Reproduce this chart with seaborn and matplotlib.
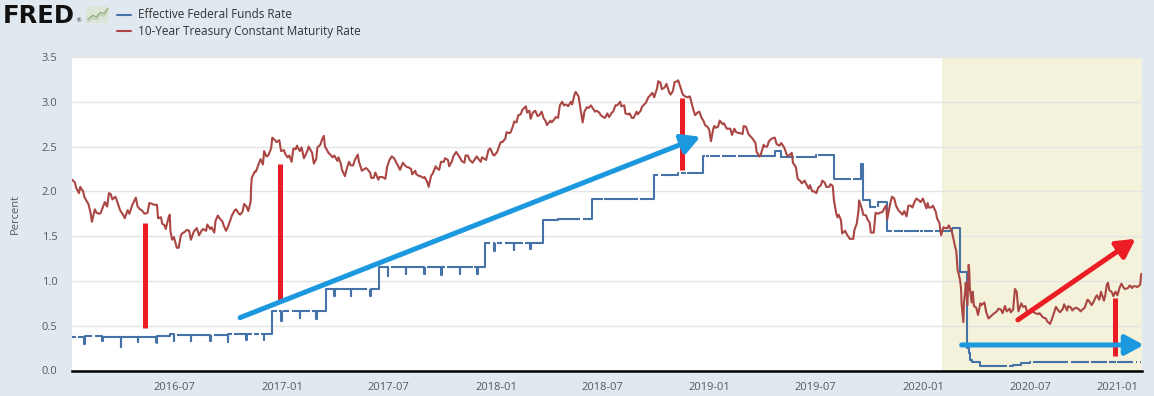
import pandas as pd
import matplotlib.pyplot as plt
import matplotlib.dates as mdates
from matplotlib.lines import Line2D
import seaborn as sns

# 10-Year Treasury Constant Maturity Rate (~weekly)
t10_dates = [
    "2016-01-08", "2016-01-13", "2016-01-15", "2016-01-20", "2016-01-22", "2016-01-27", "2016-01-29",
    "2016-02-03", "2016-02-05", "2016-02-09", "2016-02-11", "2016-02-16", "2016-02-19", "2016-02-24", "2016-02-26",
    "2016-03-01", "2016-03-04", "2016-03-08", "2016-03-11", "2016-03-14", "2016-03-17", "2016-03-22", "2016-03-24",
    "2016-03-29", "2016-03-31", "2016-04-05", "2016-04-07", "2016-04-12", "2016-04-15", "2016-04-20", "2016-04-26",
    "2016-04-29", "2016-05-03", "2016-05-06", "2016-05-11", "2016-05-16", "2016-05-19", "2016-05-24", "2016-05-27",
    "2016-06-01", "2016-06-03", "2016-06-08", "2016-06-10", "2016-06-14", "2016-06-16", "2016-06-21", "2016-06-23",
    "2016-06-24", "2016-06-27", "2016-06-30", "2016-07-05", "2016-07-08", "2016-07-12", "2016-07-14", "2016-07-19",
    "2016-07-22", "2016-07-26", "2016-07-29", "2016-08-03", "2016-08-08", "2016-08-12", "2016-08-16", "2016-08-19",
    "2016-08-24", "2016-08-26", "2016-08-31", "2016-09-02", "2016-09-07", "2016-09-09", "2016-09-13", "2016-09-16",
    "2016-09-21", "2016-09-23", "2016-09-27", "2016-09-30", "2016-10-05", "2016-10-07", "2016-10-12", "2016-10-14",
    "2016-10-19", "2016-10-21", "2016-10-25", "2016-10-28", "2016-11-01", "2016-11-04", "2016-11-08", "2016-11-09",
    "2016-11-10", "2016-11-15", "2016-11-17", "2016-11-22", "2016-11-25", "2016-11-29", "2016-12-01", "2016-12-05",
    "2016-12-08", "2016-12-13", "2016-12-15", "2016-12-20", "2016-12-22", "2016-12-27", "2016-12-30",
    "2017-01-04", "2017-01-06", "2017-01-10", "2017-01-13", "2017-01-17", "2017-01-20", "2017-01-24", "2017-01-26",
    "2017-01-31", "2017-02-03", "2017-02-07", "2017-02-10", "2017-02-14", "2017-02-15", "2017-02-21", "2017-02-24",
    "2017-02-28", "2017-03-02", "2017-03-07", "2017-03-10", "2017-03-13", "2017-03-15", "2017-03-21", "2017-03-24",
    "2017-03-28", "2017-03-31", "2017-04-05", "2017-04-07", "2017-04-11", "2017-04-13", "2017-04-18", "2017-04-21",
    "2017-04-25", "2017-04-28", "2017-05-02", "2017-05-05", "2017-05-10", "2017-05-12", "2017-05-17", "2017-05-19",
    "2017-05-24", "2017-05-26", "2017-05-31", "2017-06-02", "2017-06-06", "2017-06-09", "2017-06-14", "2017-06-16",
    "2017-06-21", "2017-06-26", "2017-06-29", "2017-07-03", "2017-07-07", "2017-07-11", "2017-07-14", "2017-07-19",
    "2017-07-21", "2017-07-26", "2017-07-28", "2017-08-02", "2017-08-04", "2017-08-09", "2017-08-11", "2017-08-16",
    "2017-08-18", "2017-08-23", "2017-08-25", "2017-08-30", "2017-09-01", "2017-09-06", "2017-09-08", "2017-09-12",
    "2017-09-15", "2017-09-20", "2017-09-22", "2017-09-26", "2017-09-29", "2017-10-04", "2017-10-06", "2017-10-11",
    "2017-10-13", "2017-10-18", "2017-10-20", "2017-10-25", "2017-10-27", "2017-11-01", "2017-11-03", "2017-11-08",
    "2017-11-10", "2017-11-14", "2017-11-17", "2017-11-22", "2017-11-24", "2017-11-29", "2017-12-01", "2017-12-06",
    "2017-12-08", "2017-12-13", "2017-12-15", "2017-12-19", "2017-12-22", "2017-12-27", "2017-12-29",
    "2018-01-03", "2018-01-05", "2018-01-09", "2018-01-12", "2018-01-17", "2018-01-19", "2018-01-24", "2018-01-26",
    "2018-01-30", "2018-02-01", "2018-02-05", "2018-02-08", "2018-02-12", "2018-02-15", "2018-02-21", "2018-02-23",
    "2018-02-27", "2018-03-01", "2018-03-05", "2018-03-09", "2018-03-13", "2018-03-16", "2018-03-20", "2018-03-23",
    "2018-03-27", "2018-03-29", "2018-04-04", "2018-04-06", "2018-04-10", "2018-04-13", "2018-04-17", "2018-04-20",
    "2018-04-24", "2018-04-27", "2018-05-01", "2018-05-04", "2018-05-09", "2018-05-11", "2018-05-15", "2018-05-17",
    "2018-05-22", "2018-05-25", "2018-05-29", "2018-06-01", "2018-06-05", "2018-06-08", "2018-06-12", "2018-06-15",
    "2018-06-19", "2018-06-22", "2018-06-26", "2018-06-29", "2018-07-03", "2018-07-06", "2018-07-10", "2018-07-13",
    "2018-07-18", "2018-07-20", "2018-07-24", "2018-07-27", "2018-08-01", "2018-08-03", "2018-08-08", "2018-08-10",
    "2018-08-15", "2018-08-17", "2018-08-21", "2018-08-24", "2018-08-29", "2018-08-31", "2018-09-05", "2018-09-07",
    "2018-09-11", "2018-09-14", "2018-09-18", "2018-09-21", "2018-09-25", "2018-09-28", "2018-10-03", "2018-10-05",
    "2018-10-09", "2018-10-11", "2018-10-16", "2018-10-19", "2018-10-24", "2018-10-26", "2018-10-30", "2018-11-02",
    "2018-11-07", "2018-11-08", "2018-11-13", "2018-11-16", "2018-11-20", "2018-11-23", "2018-11-28", "2018-11-30",
    "2018-12-04", "2018-12-07", "2018-12-11", "2018-12-14", "2018-12-18", "2018-12-21", "2018-12-24", "2018-12-28",
    "2018-12-31",
    "2019-01-03", "2019-01-07", "2019-01-09", "2019-01-11", "2019-01-15", "2019-01-18", "2019-01-23", "2019-01-25",
    "2019-01-30", "2019-02-01", "2019-02-05", "2019-02-08", "2019-02-12", "2019-02-15", "2019-02-20", "2019-02-22",
    "2019-02-26", "2019-02-28", "2019-03-04", "2019-03-08", "2019-03-12", "2019-03-15", "2019-03-20", "2019-03-22",
    "2019-03-27", "2019-03-29", "2019-04-03", "2019-04-05", "2019-04-09", "2019-04-12", "2019-04-17", "2019-04-22",
    "2019-04-25", "2019-04-30", "2019-05-03", "2019-05-08", "2019-05-13", "2019-05-16", "2019-05-21", "2019-05-23",
    "2019-05-28", "2019-05-31", "2019-06-04", "2019-06-07", "2019-06-12", "2019-06-14", "2019-06-19", "2019-06-21",
    "2019-06-25", "2019-06-28", "2019-07-02", "2019-07-05", "2019-07-10", "2019-07-12", "2019-07-16", "2019-07-19",
    "2019-07-24", "2019-07-26", "2019-07-30", "2019-08-01", "2019-08-05", "2019-08-07", "2019-08-09", "2019-08-13",
    "2019-08-15", "2019-08-20", "2019-08-23", "2019-08-28", "2019-09-03", "2019-09-05", "2019-09-09", "2019-09-12",
    "2019-09-13", "2019-09-18", "2019-09-20", "2019-09-25", "2019-09-27", "2019-10-01", "2019-10-03", "2019-10-08",
    "2019-10-11", "2019-10-16", "2019-10-18", "2019-10-23", "2019-10-25", "2019-10-29", "2019-10-31", "2019-11-05",
    "2019-11-08", "2019-11-12", "2019-11-15", "2019-11-19", "2019-11-22", "2019-11-26", "2019-11-29", "2019-12-03",
    "2019-12-06", "2019-12-10", "2019-12-13", "2019-12-17", "2019-12-20", "2019-12-24", "2019-12-27", "2019-12-31",
    "2020-01-02", "2020-01-06", "2020-01-08", "2020-01-10", "2020-01-14", "2020-01-17", "2020-01-22", "2020-01-24",
    "2020-01-28", "2020-01-31", "2020-02-04", "2020-02-07", "2020-02-11", "2020-02-13", "2020-02-18", "2020-02-21",
    "2020-02-24", "2020-02-26", "2020-02-28", "2020-03-03", "2020-03-05", "2020-03-06", "2020-03-09", "2020-03-10",
    "2020-03-12", "2020-03-13", "2020-03-16", "2020-03-18", "2020-03-19", "2020-03-20", "2020-03-23", "2020-03-25",
    "2020-03-27", "2020-03-31", "2020-04-03", "2020-04-07", "2020-04-09", "2020-04-14", "2020-04-17", "2020-04-21",
    "2020-04-24", "2020-04-29", "2020-05-01", "2020-05-05", "2020-05-08", "2020-05-12", "2020-05-15", "2020-05-19",
    "2020-05-22", "2020-05-27", "2020-05-29", "2020-06-02", "2020-06-05", "2020-06-08", "2020-06-11", "2020-06-16",
    "2020-06-19", "2020-06-23", "2020-06-26", "2020-06-30", "2020-07-02", "2020-07-07", "2020-07-10", "2020-07-15",
    "2020-07-17", "2020-07-22", "2020-07-24", "2020-07-28", "2020-07-30", "2020-08-04", "2020-08-07", "2020-08-12",
    "2020-08-14", "2020-08-18", "2020-08-21", "2020-08-26", "2020-08-28", "2020-09-02", "2020-09-04", "2020-09-09",
    "2020-09-11", "2020-09-16", "2020-09-18", "2020-09-23", "2020-09-25", "2020-09-30", "2020-10-02", "2020-10-07",
    "2020-10-09", "2020-10-14", "2020-10-16", "2020-10-21", "2020-10-23", "2020-10-27", "2020-10-30", "2020-11-04",
    "2020-11-06", "2020-11-09", "2020-11-11", "2020-11-13", "2020-11-18", "2020-11-20", "2020-11-24", "2020-11-27",
    "2020-12-01", "2020-12-04", "2020-12-08", "2020-12-10", "2020-12-15", "2020-12-18", "2020-12-22", "2020-12-24",
    "2020-12-29", "2020-12-31", "2021-01-05", "2021-01-06", "2021-01-07",
]
t10_values = [
    2.13, 2.10, 2.04, 1.98, 2.05, 2.00, 1.94,
    1.88, 1.86, 1.75, 1.66, 1.80, 1.76, 1.75, 1.76,
    1.83, 1.88, 1.83, 1.98, 1.97, 1.91, 1.94, 1.91,
    1.81, 1.78, 1.73, 1.70, 1.79, 1.75, 1.85, 1.93,
    1.83, 1.80, 1.79, 1.75, 1.76, 1.87, 1.86, 1.85,
    1.85, 1.70, 1.71, 1.64, 1.62, 1.58, 1.71, 1.74,
    1.56, 1.46, 1.49, 1.37, 1.37, 1.51, 1.53, 1.55,
    1.57, 1.56, 1.46, 1.55, 1.59, 1.51, 1.56, 1.58,
    1.56, 1.63, 1.58, 1.60, 1.54, 1.67, 1.73, 1.70,
    1.66, 1.62, 1.56, 1.60, 1.69, 1.73, 1.79, 1.80,
    1.75, 1.74, 1.77, 1.86, 1.83, 1.78, 1.88, 2.07,
    2.15, 2.22, 2.22, 2.31, 2.36, 2.30, 2.45, 2.39,
    2.40, 2.48, 2.60, 2.57, 2.55, 2.57, 2.45,
    2.46, 2.42, 2.38, 2.40, 2.33, 2.48, 2.47, 2.51,
    2.45, 2.49, 2.37, 2.41, 2.47, 2.50, 2.43, 2.31,
    2.36, 2.49, 2.52, 2.58, 2.62, 2.50, 2.43, 2.41,
    2.38, 2.40, 2.34, 2.38, 2.31, 2.24, 2.17, 2.25,
    2.33, 2.29, 2.29, 2.35, 2.41, 2.33, 2.23, 2.24,
    2.26, 2.25, 2.21, 2.15, 2.15, 2.21, 2.13, 2.16,
    2.16, 2.14, 2.27, 2.35, 2.39, 2.37, 2.33, 2.27,
    2.24, 2.32, 2.30, 2.27, 2.27, 2.25, 2.19, 2.23,
    2.19, 2.17, 2.17, 2.15, 2.16, 2.10, 2.05, 2.17,
    2.20, 2.28, 2.26, 2.24, 2.33, 2.33, 2.37, 2.35,
    2.28, 2.34, 2.39, 2.44, 2.42, 2.37, 2.34, 2.32,
    2.40, 2.40, 2.35, 2.32, 2.34, 2.39, 2.37, 2.33,
    2.38, 2.36, 2.35, 2.46, 2.48, 2.41, 2.40,
    2.44, 2.48, 2.55, 2.55, 2.59, 2.66, 2.65, 2.66,
    2.73, 2.78, 2.77, 2.85, 2.86, 2.91, 2.95, 2.88,
    2.90, 2.81, 2.88, 2.90, 2.84, 2.85, 2.89, 2.82,
    2.78, 2.74, 2.79, 2.77, 2.80, 2.83, 2.82, 2.96,
    3.00, 2.96, 2.97, 2.95, 3.00, 2.97, 3.08, 3.11,
    3.06, 2.93, 2.77, 2.89, 2.94, 2.93, 2.96, 2.93,
    2.89, 2.90, 2.88, 2.85, 2.83, 2.82, 2.87, 2.83,
    2.88, 2.89, 2.96, 2.96, 3.00, 2.95, 2.96, 2.87,
    2.86, 2.87, 2.82, 2.82, 2.89, 2.86, 2.90, 2.94,
    2.97, 2.99, 3.05, 3.07, 3.10, 3.05, 3.15, 3.23,
    3.21, 3.14, 3.16, 3.20, 3.10, 3.08, 3.12, 3.22,
    3.23, 3.24, 3.14, 3.08, 3.06, 3.05, 3.06, 3.01,
    2.91, 2.85, 2.88, 2.89, 2.82, 2.79, 2.74, 2.72,
    2.69,
    2.56, 2.70, 2.73, 2.71, 2.72, 2.79, 2.75, 2.76,
    2.70, 2.70, 2.70, 2.63, 2.70, 2.66, 2.65, 2.65,
    2.64, 2.73, 2.72, 2.64, 2.61, 2.59, 2.54, 2.44,
    2.39, 2.41, 2.52, 2.50, 2.50, 2.56, 2.59, 2.60,
    2.53, 2.51, 2.54, 2.49, 2.40, 2.40, 2.43, 2.32,
    2.27, 2.14, 2.12, 2.09, 2.12, 2.09, 2.03, 2.07,
    2.00, 2.00, 1.98, 2.04, 2.07, 2.12, 2.10, 2.05,
    2.05, 2.08, 2.06, 1.90, 1.75, 1.71, 1.74, 1.68,
    1.53, 1.56, 1.52, 1.47, 1.47, 1.57, 1.64, 1.79,
    1.90, 1.80, 1.74, 1.73, 1.69, 1.65, 1.54, 1.54,
    1.76, 1.75, 1.76, 1.77, 1.80, 1.84, 1.69, 1.86,
    1.94, 1.92, 1.84, 1.79, 1.77, 1.74, 1.78, 1.72,
    1.84, 1.84, 1.82, 1.89, 1.92, 1.90, 1.88, 1.92,
    1.88, 1.81, 1.87, 1.82, 1.82, 1.84, 1.77, 1.70,
    1.65, 1.51, 1.60, 1.59, 1.59, 1.62, 1.56, 1.47,
    1.38, 1.33, 1.13, 1.02, 0.92, 0.74, 0.54, 0.76,
    0.88, 0.98, 0.73, 1.18, 1.12, 0.92, 0.76, 0.88,
    0.72, 0.70, 0.62, 0.75, 0.73, 0.76, 0.65, 0.58,
    0.60, 0.63, 0.64, 0.66, 0.69, 0.68, 0.64, 0.72,
    0.66, 0.69, 0.65, 0.68, 0.91, 0.88, 0.66, 0.75,
    0.71, 0.72, 0.64, 0.66, 0.68, 0.65, 0.64, 0.63,
    0.64, 0.60, 0.59, 0.58, 0.55, 0.52, 0.57, 0.67,
    0.71, 0.67, 0.65, 0.69, 0.74, 0.67, 0.72, 0.70,
    0.67, 0.70, 0.70, 0.68, 0.66, 0.69, 0.70, 0.79,
    0.78, 0.73, 0.75, 0.82, 0.84, 0.79, 0.88, 0.78,
    0.83, 0.96, 0.98, 0.90, 0.87, 0.83, 0.88, 0.84,
    0.93, 0.97, 0.92, 0.91, 0.92, 0.95, 0.92, 0.94,
    0.94, 0.93, 0.96, 1.04, 1.08,
]

# Effective Federal Funds Rate: change points (drawn as steps), incl. month-end dips
ff_dates = [
    "2016-01-08", "2016-01-29", "2016-01-30", "2016-02-29", "2016-03-01", "2016-03-31", "2016-04-01",
    "2016-04-29", "2016-04-30", "2016-05-31", "2016-06-01", "2016-06-24", "2016-06-30", "2016-07-01",
    "2016-07-29", "2016-07-30", "2016-08-31", "2016-09-01", "2016-09-30", "2016-10-01", "2016-10-31",
    "2016-11-01", "2016-11-30", "2016-12-01", "2016-12-15", "2016-12-30", "2016-12-31", "2017-01-31",
    "2017-02-01", "2017-02-28", "2017-03-01", "2017-03-16", "2017-03-31", "2017-04-01", "2017-04-28",
    "2017-04-29", "2017-05-31", "2017-06-01", "2017-06-15", "2017-06-30", "2017-07-01", "2017-07-31",
    "2017-08-01", "2017-08-31", "2017-09-01", "2017-09-29", "2017-09-30", "2017-10-31", "2017-11-01",
    "2017-11-30", "2017-12-01", "2017-12-14", "2017-12-29", "2017-12-30", "2018-01-31", "2018-02-01",
    "2018-02-28", "2018-03-01", "2018-03-22", "2018-04-16", "2018-06-14", "2018-08-15", "2018-09-27",
    "2018-11-08", "2018-12-20", "2019-04-22", "2019-05-02", "2019-07-01", "2019-08-01", "2019-09-17",
    "2019-09-19", "2019-10-02", "2019-10-16", "2019-10-31", "2020-02-18", "2020-03-04", "2020-03-16",
    "2020-03-18", "2020-03-20", "2020-03-24", "2020-04-06", "2020-06-01", "2020-06-15", "2020-07-01",
    "2020-07-15", "2020-09-01", "2021-01-07",
]
ff_values = [
    0.37, 0.30, 0.38, 0.33, 0.37, 0.26, 0.37,
    0.32, 0.37, 0.31, 0.38, 0.41, 0.33, 0.40,
    0.33, 0.40, 0.33, 0.40, 0.32, 0.41, 0.34,
    0.41, 0.34, 0.41, 0.66, 0.55, 0.66, 0.59,
    0.66, 0.58, 0.66, 0.91, 0.83, 0.91, 0.83,
    0.91, 0.83, 0.91, 1.16, 1.06, 1.16, 1.08,
    1.16, 1.08, 1.16, 1.07, 1.16, 1.08, 1.16,
    1.08, 1.16, 1.42, 1.33, 1.42, 1.35, 1.42,
    1.36, 1.42, 1.68, 1.69, 1.91, 1.92, 2.18,
    2.21, 2.40, 2.45, 2.38, 2.41, 2.14, 2.30,
    1.90, 1.83, 1.88, 1.56, 1.59, 1.10, 0.25,
    0.20, 0.12, 0.09, 0.05, 0.06, 0.08, 0.09,
    0.10, 0.09, 0.09,
]
# days with no published rate (federal holidays) -> gaps in the line
ff_holidays = [
    "2016-01-18", "2016-02-15", "2016-05-30", "2016-07-04", "2016-09-05", "2016-10-10", "2016-11-11",
    "2016-11-24", "2016-12-26", "2017-01-02", "2017-01-16", "2017-02-20", "2017-05-29", "2017-07-04",
    "2017-09-04", "2017-10-09", "2017-11-23", "2017-12-25", "2018-01-01", "2018-01-15", "2018-02-19",
    "2018-05-28", "2018-07-04", "2018-09-03", "2018-10-08", "2018-11-12", "2018-11-22", "2018-12-25",
    "2019-01-01", "2019-01-21", "2019-02-18", "2019-05-27", "2019-07-04", "2019-09-02", "2019-10-14",
    "2019-11-11", "2019-11-28", "2019-12-25", "2020-01-01", "2020-01-20", "2020-02-17", "2020-05-25",
    "2020-07-03", "2020-09-07", "2020-10-12", "2020-11-11", "2020-11-26", "2020-12-25", "2021-01-01",
]

# recession shading start, chart window and x ticks
recession_start = "2020-02-01"
x_start, x_end = "2016-01-08", "2021-01-08"
tick_dates = ["2016-07-01", "2017-01-01", "2017-07-01", "2018-01-01", "2018-07-01",
              "2019-01-01", "2019-07-01", "2020-01-01", "2020-07-01", "2021-01-01"]

# hand-drawn annotations on the original screenshot (date, percent)
red_bars = [("2016-05-11", 0.48, 1.65), ("2016-12-28", 0.79, 2.30),
            ("2018-11-14", 2.24, 3.04), ("2020-11-23", 0.16, 0.81)]
blue_arrows = [(("2016-10-21", 0.59), ("2018-12-16", 2.61)),
               (("2020-03-06", 0.285), ("2021-01-11", 0.285))]
red_arrows = [(("2020-06-10", 0.565), ("2020-12-28", 1.47))]

# little FRED logo chart
icon_x = [0.08, 0.3, 0.45, 0.62, 0.78, 0.95]
icon_y = [0.22, 0.45, 0.35, 0.62, 0.55, 0.85]

t10 = pd.DataFrame({"date": pd.to_datetime(t10_dates), "rate": t10_values})
ff = pd.DataFrame({"date": pd.to_datetime(ff_dates), "rate": ff_values})

# split the step series into pieces around the holidays
level = ff.set_index("date")["rate"]
pieces = [ff.assign(kind=1)]
for h in pd.to_datetime(ff_holidays):
    e = h - pd.offsets.BDay(1)
    s = h + pd.offsets.BDay(1)
    pieces.append(pd.DataFrame({"date": [e, s], "rate": [level.asof(e), level.asof(s)],
                                "kind": [0, 2]}))
ffs = pd.concat(pieces).sort_values(["date", "kind"]).reset_index(drop=True)
ffs["seg"] = (ffs["kind"] == 2).cumsum()
gap = (ffs["kind"] == 1) & ffs["date"].isin(pd.to_datetime(ff_holidays))
ffs = ffs[~gap].drop_duplicates(["date", "seg"], keep="last")

sns.set_theme(style="white")
plt.rcParams["font.family"] = ["Open Sans", "DejaVu Sans"]

BG = "#e1e9f0"
BLUE = "#4572a7"
RED = "#aa4643"

fig = plt.figure(figsize=(11.54, 3.96), dpi=100, facecolor=BG)
ax = fig.add_axes([72 / 1154, 25.5 / 396, 1070 / 1154, 313.5 / 396])
ax.set_facecolor("white")

ax.axvspan(pd.Timestamp(recession_start), pd.Timestamp(x_end), color="#f4f2da", lw=0, zorder=0)

sns.lineplot(data=ffs, x="date", y="rate", units="seg", estimator=None, ax=ax,
             color=BLUE, lw=1.5, drawstyle="steps-post", solid_capstyle="butt", zorder=3)
sns.lineplot(data=t10, x="date", y="rate", ax=ax, color=RED, lw=1.5, zorder=3)

# annotations
ann_red = "#ec1c24"
ann_blue = "#1b98de"
for d, lo, hi in red_bars:
    ax.plot([pd.Timestamp(d)] * 2, [lo, hi], color=ann_red, lw=3.6,
            solid_capstyle="butt", zorder=5)
for arrows, col in [(blue_arrows, ann_blue), (red_arrows, ann_red)]:
    for (d0, v0), (d1, v1) in arrows:
        ax.annotate("", xy=(pd.Timestamp(d1), v1), xytext=(pd.Timestamp(d0), v0),
                    arrowprops=dict(arrowstyle="-|>,head_length=0.55,head_width=0.3",
                                    color=col, lw=3.6, mutation_scale=20,
                                    shrinkA=0, shrinkB=0),
                    annotation_clip=False, zorder=6)

# axes styling
ax.set_xlim(pd.Timestamp(x_start), pd.Timestamp(x_end))
ax.set_ylim(0, 3.5)
ax.set_yticks([0, 0.5, 1.0, 1.5, 2.0, 2.5, 3.0, 3.5])
ax.yaxis.set_major_formatter(plt.FuncFormatter(lambda v, p: f"{v:.1f}"))
ax.set_xticks(pd.to_datetime(tick_dates))
ax.xaxis.set_major_formatter(mdates.DateFormatter("%Y-%m"))
ax.grid(axis="y", color="#e4e4e4", lw=1)
ax.grid(axis="x", visible=False)
for s in ["left", "right", "top"]:
    ax.spines[s].set_visible(False)
ax.spines["bottom"].set_color("black")
ax.spines["bottom"].set_linewidth(1.8)
ax.spines["bottom"].set_zorder(7)
ax.tick_params(axis="y", length=0, pad=10.5, labelsize=8, labelcolor="#595959")
ax.tick_params(axis="x", length=5, width=1, color="#cccccc", pad=3,
               labelsize=8, labelcolor="#595959")
ax.get_xticklabels()[-1].set_horizontalalignment("right")
ax.set_xlabel("")
ax.set_ylabel("Percent", fontsize=8, color="#595959")
ax.yaxis.set_label_coords(-0.0475, 0.5)

# FRED header
fig.text(3 / 1154, 1 - 16 / 396, "FRED", fontsize=17.5, fontweight="bold",
         family="DejaVu Sans", color="#111111", va="center", ha="left")
fig.text(77 / 1154, 1 - 21 / 396, "®", fontsize=4, color="#111111", va="center")
icon = fig.add_axes([86 / 1154, 1 - 23 / 396, 23 / 1154, 17 / 396])
icon.set_facecolor("#dde5d8")
icon.plot(icon_x, icon_y, color="#8fb27c", lw=1)
icon.plot(icon_x, [v - 0.15 for v in icon_y], color="#b9c9ad", lw=0.8)
icon.set_xlim(0, 1)
icon.set_ylim(0, 1)
icon.set_xticks([])
icon.set_yticks([])
for s in icon.spines.values():
    s.set_visible(False)

# legend
for yy, col, lab in [(14.5, BLUE, "Effective Federal Funds Rate"),
                     (31, RED, "10-Year Treasury Constant Maturity Rate")]:
    fig.add_artist(Line2D([117 / 1154, 131 / 1154], [1 - yy / 396] * 2, color=col, lw=1.5))
    fig.text(138 / 1154, 1 - yy / 396, lab, fontsize=8.5, color="#333333", va="center", ha="left")

fig.savefig("out.png", dpi=100, facecolor=BG)
